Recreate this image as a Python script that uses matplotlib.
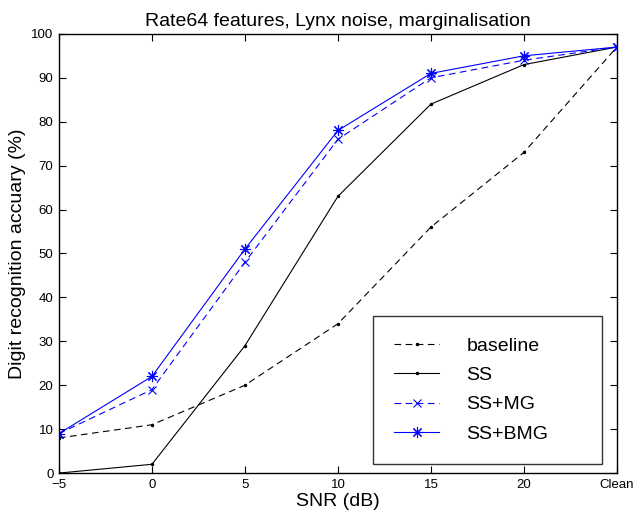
import numpy as np
import matplotlib.pyplot as plt

plt.rcParams['font.family'] = ['Liberation Sans', 'DejaVu Sans']

snr = np.array([-5, 0, 5, 10, 15, 20, 25])
tick_labels = ['\u22125', '0', '5', '10', '15', '20', 'Clean']

baseline = np.array([8, 11, 20, 34, 56, 73, 97])
ss = np.array([0, 2, 29, 63, 84, 93, 97])
ss_mg = np.array([9, 19, 48, 76, 90, 94, 97])
ss_bmg = np.array([9, 22, 51, 78, 91, 95, 97])

fig = plt.figure(figsize=(6.34, 5.21), dpi=100)
ax = fig.add_axes([0.093, 0.092, 0.88, 0.843])

ax.plot(snr, baseline, color='black', linestyle=(0, (6, 4)), linewidth=0.8,
        marker='.', markersize=3, label='baseline')
ax.plot(snr, ss, color='black', linestyle='-', linewidth=0.8,
        marker='.', markersize=3, label='SS')
ax.plot(snr, ss_mg, color='blue', linestyle=(0, (6, 4)), linewidth=0.8,
        marker='x', markersize=6, markeredgewidth=0.8, label='SS+MG')
# matlab style asterisk
ax.plot(snr, ss_bmg, color='blue', linestyle='-', linewidth=0.8,
        marker=(8, 2, 0), markersize=8, markeredgewidth=0.8, label='SS+BMG')

ax.set_xlim(-5, 25)
ax.set_ylim(0, 100)
ax.set_xticks(snr)
ax.set_xticklabels(tick_labels)
ax.set_yticks(np.arange(0, 101, 10))
ax.tick_params(direction='in', top=True, right=True, labelsize=9.5,
               length=5, width=0.8, pad=4)
for s in ax.spines.values():
    s.set_linewidth(1.0)

ax.set_title('Rate64 features, Lynx noise, marginalisation', fontsize=14)
ax.set_xlabel('SNR (dB)', fontsize=14, labelpad=2)
ax.set_ylabel('Digit recognition accuary (%)', fontsize=14, labelpad=4)

leg = ax.legend(loc='lower left', bbox_to_anchor=(0.5627, 0.0205, 0.4104, 0.3),
                mode='expand', fontsize=14, frameon=True, fancybox=False,
                edgecolor='black', handlelength=2.3, labelspacing=0.6,
                borderpad=1.1, handletextpad=1.4, borderaxespad=0)
leg.get_frame().set_linewidth(1.0)

fig.savefig('out.png', dpi=100)
